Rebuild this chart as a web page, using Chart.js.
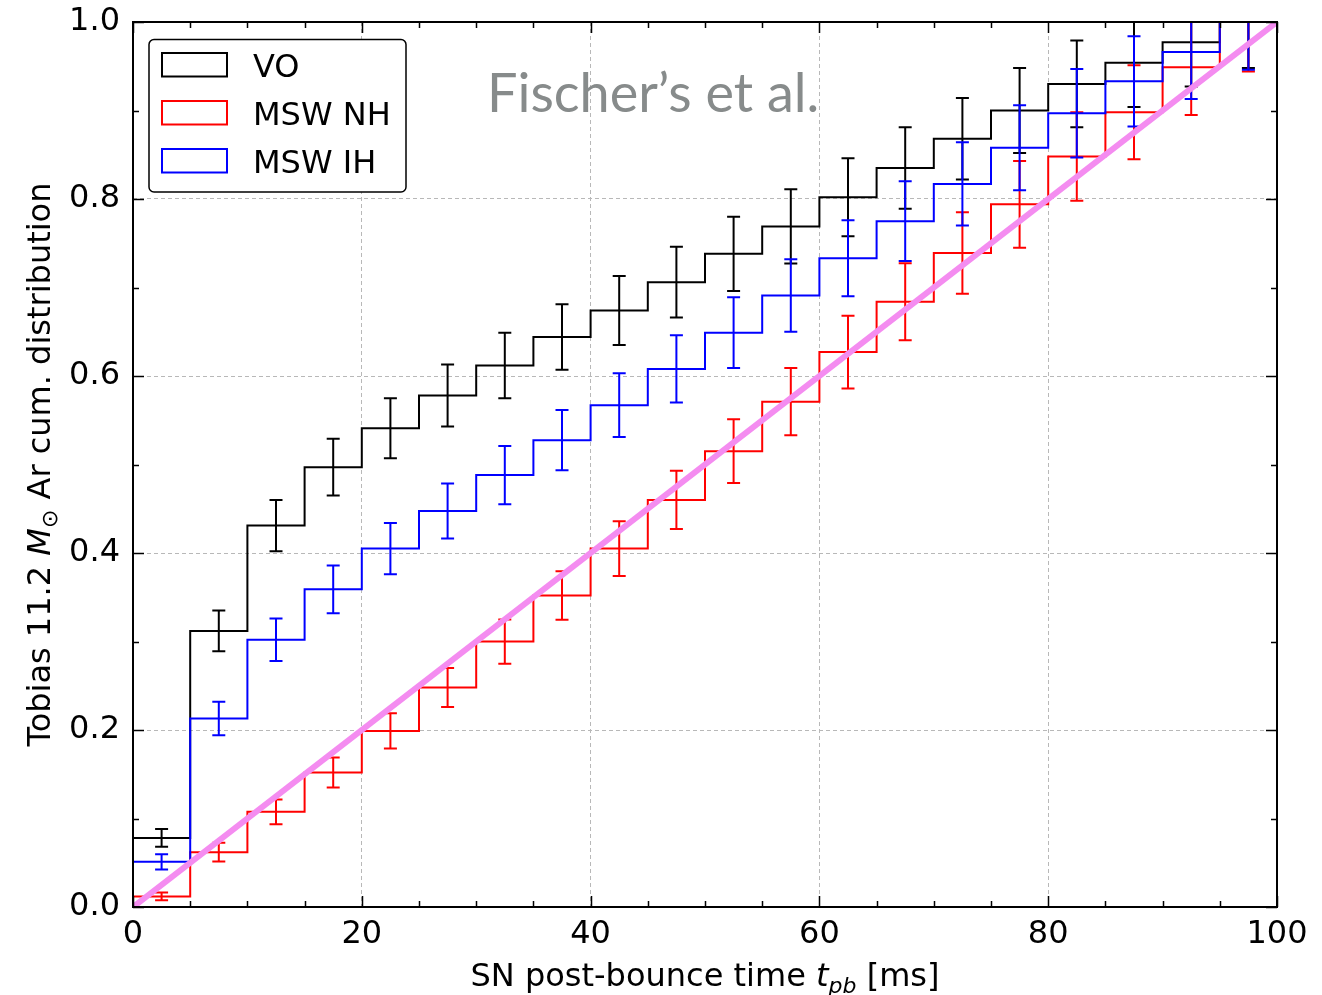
<!DOCTYPE html>
<html><head><meta charset="utf-8">
<script src="https://cdn.jsdelivr.net/npm/chart.js@4/dist/chart.umd.min.js"></script>
<style>html,body{margin:0;padding:0;background:#fff;}canvas{display:block}</style>
</head><body>
<canvas id="c" width="1322" height="995"></canvas>
<script>
// ---- data ----
const binStart = [0,5,10,15,20,25,30,35,40,45,50,55,60,65,70,75,80,85,90,95];
const binEnd = 100;
const voValues = [0.078,0.312,0.431,0.497,0.541,0.578,0.612,0.644,0.674,0.706,0.738,0.769,0.802,0.835,0.868,0.900,0.930,0.954,0.977,1.000];
const voErrors = [0.010,0.023,0.029,0.032,0.034,0.035,0.037,0.037,0.039,0.040,0.042,0.042,0.044,0.046,0.046,0.048,0.049,0.050,0.050,0.052];
const nhValues = [0.012,0.062,0.1075,0.152,0.199,0.248,0.300,0.352,0.405,0.460,0.515,0.571,0.627,0.684,0.739,0.794,0.848,0.898,0.949,1.000];
const nhErrors = [0.0045,0.0105,0.014,0.017,0.020,0.022,0.025,0.0275,0.031,0.033,0.036,0.038,0.041,0.0435,0.046,0.049,0.050,0.053,0.054,0.056];
const ihValues = [0.051,0.213,0.302,0.359,0.405,0.4475,0.488,0.5275,0.567,0.608,0.649,0.691,0.733,0.775,0.817,0.858,0.897,0.933,0.966,1.000];
const ihErrors = [0.0085,0.019,0.024,0.027,0.029,0.031,0.033,0.034,0.036,0.038,0.040,0.041,0.043,0.045,0.047,0.048,0.050,0.051,0.053,0.054];
const uniformX = [0,100];
const uniformY = [0,1];
const seriesNames = ['VO','MSW NH','MSW IH'];
const xTickStep = 20, xMinorStep = 5;
const yTickStep = 0.2, yMinorStep = 0.1;
const annotationText = 'Fischer\u2019s et al.';

// ---- build ----
function stepPoints(vals){
  const pts=[{x:binStart[0],y:0}];
  vals.forEach((v,i)=>pts.push({x:binStart[i],y:v}));
  pts.push({x:binEnd,y:vals[vals.length-1]});
  return pts;
}
function mk(label,vals,errs,color){
  return {label,data:stepPoints(vals),vals,errs,borderColor:color,backgroundColor:color,
    borderWidth:2,stepped:'before',pointRadius:0,fill:false,clip:0};
}
const datasets=[
  {label:'uniform',data:uniformX.map((x,i)=>({x,y:uniformY[i]})),borderColor:'#f48cf0',borderWidth:6,pointRadius:0,fill:false,borderCapStyle:'butt'},
  mk(seriesNames[2],ihValues,ihErrors,'#0000ff'),
  mk(seriesNames[1],nhValues,nhErrors,'#ff0000'),
  mk(seriesNames[0],voValues,voErrors,'#000000')
];
const FONT='DejaVu Sans';

function drawRich(ctx,segs,x,y,rot){
  ctx.save();
  ctx.translate(x,y); ctx.rotate(rot||0);
  ctx.textBaseline='alphabetic'; ctx.textAlign='left';
  let w=0; segs.forEach(s=>{ctx.font=s.f; s.w=ctx.measureText(s.t).width; w+=s.w;});
  let cx=-w/2;
  segs.forEach(s=>{ctx.font=s.f; ctx.fillStyle='#000'; ctx.fillText(s.t,cx,s.dy||0); cx+=s.w;});
  ctx.restore();
}

const errPlugin={
  id:'errbars',
  afterDatasetDraw(chart,args){
    const ds=chart.data.datasets[args.index];
    if(!ds.errs) return;
    const {ctx,chartArea:a,scales:{x,y}}=chart;
    ctx.save();
    ctx.beginPath(); ctx.rect(a.left,a.top,a.right-a.left,a.bottom-a.top); ctx.clip();
    ctx.strokeStyle=ds.borderColor; ctx.lineWidth=2; ctx.lineCap='butt';
    ds.vals.forEach((v,i)=>{
      const px=x.getPixelForValue(binStart[i]+(binStart[1]-binStart[0])/2);
      const y1=y.getPixelForValue(v-ds.errs[i]), y2=y.getPixelForValue(v+ds.errs[i]);
      ctx.beginPath();
      ctx.moveTo(px,y1); ctx.lineTo(px,y2);
      ctx.moveTo(px-6.5,y1); ctx.lineTo(px+6.5,y1);
      ctx.moveTo(px-6.5,y2); ctx.lineTo(px+6.5,y2);
      ctx.stroke();
    });
    ctx.restore();
  }
};

const decoPlugin={
  id:'deco',
  beforeDatasetsDraw(chart){
    const {ctx}=chart;
    ctx.save();
    ctx.font='50px Lato';
    const w=ctx.measureText(annotationText).width;
    const size=50*332/w;
    ctx.font=size.toFixed(1)+'px Lato';
    ctx.fillStyle='#878b8b'; ctx.textBaseline='alphabetic'; ctx.textAlign='left';
    ctx.fillText(annotationText,487,112);
    ctx.restore();
  },
  afterDatasetsDraw(chart){
    const {ctx,chartArea:a,scales:{x,y}}=chart;
    ctx.save();
    ctx.strokeStyle='#000'; ctx.lineWidth=1.5;
    for(let v=0; v<=100+1e-9; v+=xMinorStep){
      const major=Math.abs(v/xTickStep-Math.round(v/xTickStep))<1e-6;
      const L=major?11:6; const px=Math.round(x.getPixelForValue(v))+0.5;
      ctx.beginPath(); ctx.moveTo(px,a.bottom); ctx.lineTo(px,a.bottom-L);
      ctx.moveTo(px,a.top); ctx.lineTo(px,a.top+L); ctx.stroke();
    }
    for(let v=0; v<=1+1e-9; v+=yMinorStep){
      const major=Math.abs(v/yTickStep-Math.round(v/yTickStep))<1e-6;
      const L=major?11:6; const py=Math.round(y.getPixelForValue(v))+0.5;
      ctx.beginPath(); ctx.moveTo(a.left,py); ctx.lineTo(a.left+L,py);
      ctx.moveTo(a.right,py); ctx.lineTo(a.right-L,py); ctx.stroke();
    }
    ctx.lineWidth=2;
    ctx.strokeRect(a.left,a.top,a.right-a.left,a.bottom-a.top);
    ctx.restore();
  },
  afterDraw(chart){
    const {ctx,chartArea:a}=chart;
    // axis titles
    drawRich(ctx,[
      {t:'SN post-bounce time ',f:'32px '+FONT},
      {t:'t',f:'italic 32px '+FONT},
      {t:'pb',f:'italic 22px '+FONT,dy:7},
      {t:' [ms]',f:'32px '+FONT}],(a.left+a.right)/2,986,0);
    drawRich(ctx,[
      {t:'Tobias 11.2 ',f:'32px '+FONT},
      {t:'M',f:'italic 32px '+FONT},
      {t:'\u2299',f:'22px '+FONT,dy:7},
      {t:' Ar cum. distribution',f:'32px '+FONT}],50,(a.top+a.bottom)/2,-Math.PI/2);
    // legend
    ctx.save();
    ctx.fillStyle='#fff'; ctx.strokeStyle='#000'; ctx.lineWidth=1.5;
    ctx.beginPath(); ctx.roundRect(149,39.5,257,152.5,5); ctx.fill(); ctx.stroke();
    const cols=['#000000','#ff0000','#0000ff'];
    ctx.font='32px '+FONT; ctx.textBaseline='alphabetic'; ctx.textAlign='left';
    seriesNames.forEach((n,i)=>{
      const top=53+48*i;
      ctx.strokeStyle=cols[i]; ctx.lineWidth=2;
      ctx.strokeRect(162,top,65,23.5);
      ctx.fillStyle='#000';
      ctx.fillText(n,253,top+24);
    });
    ctx.restore();
  }
};

new Chart(document.getElementById('c'),{
  type:'line',
  data:{datasets},
  options:{
    responsive:false,animation:false,
    layout:{padding:{left:0,top:22,right:45,bottom:0}},
    plugins:{legend:{display:false},tooltip:{enabled:false}},
    scales:{
      x:{type:'linear',min:0,max:100,
        afterFit(s){s.height=88; s.paddingLeft=0; s.paddingRight=0;},
        ticks:{stepSize:xTickStep,padding:8,color:'#000',font:{family:FONT,size:32},maxRotation:0},
        grid:{color:'#b8b8b8',lineWidth:1,drawTicks:false},
        border:{display:false,dash:[4,3]}},
      y:{type:'linear',min:0,max:1,
        afterFit(s){s.width=133; s.paddingTop=0; s.paddingBottom=0;},
        ticks:{stepSize:yTickStep,padding:13,color:'#000',font:{family:FONT,size:32},callback:v=>Number(v).toFixed(1)},
        grid:{color:'#b8b8b8',lineWidth:1,drawTicks:false},
        border:{display:false,dash:[4,3]}}
    }
  },
  plugins:[errPlugin,decoPlugin]
});
</script>
</body></html>
